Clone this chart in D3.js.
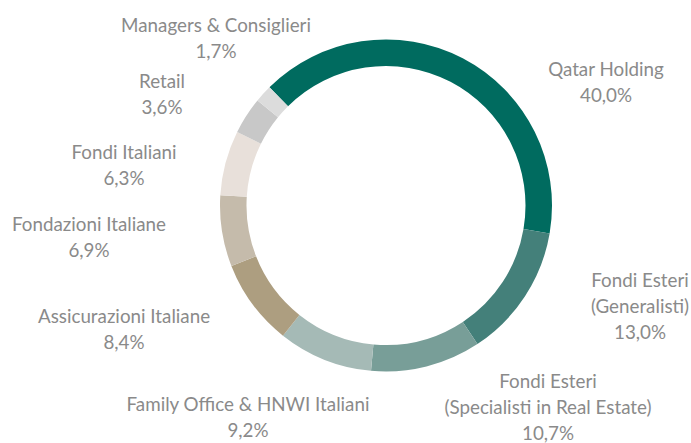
<!DOCTYPE html>
<html><head><meta charset="utf-8">
<script src="https://cdn.jsdelivr.net/npm/d3@7"></script>
<style>body{margin:0;background:#fff}svg{display:block}</style>
</head><body>
<script>
const categories = ["Qatar Holding","Fondi Esteri\n(Generalisti)","Fondi Esteri\n(Specialisti in Real Estate)","Family Office & HNWI Italiani","Assicurazioni Italiane","Fondazioni Italiane","Fondi Italiani","Retail","Managers & Consiglieri"];
const values = [40.0, 13.0, 10.7, 9.2, 8.4, 6.9, 6.3, 3.6, 1.7];
const valueLabels = ["40,0%","13,0%","10,7%","9,2%","8,4%","6,9%","6,3%","3,6%","1,7%"];
const colors = ["#006b5f","#44807a","#789e98","#a5bab6","#ad9e80","#c5bbab","#e8e0da","#c8c8c8","#dcdcdc"];

const W = 691, H = 443, cx = 386, cy = 205.5, R = 166, r = 139.5;
// label block centres, relative to chart centre (layout only)
const labelOffsets = [[220,-122.6],[254,101.3],[162,202.3],[-138,212.4],[-262,124.4],[-297,32.4],[-262,-39.6],[-224,-110.6],[-170,-166.6]];

const svg = d3.select("body").append("svg").attr("width", W).attr("height", H);
const g = svg.append("g").attr("transform", `translate(${cx},${cy})`);
const start = -44.6 * Math.PI / 180;
const pie = d3.pie().sort(null).value(d => d).startAngle(start).endAngle(start + 2 * Math.PI);
const arc = d3.arc().innerRadius(r).outerRadius(R);
g.selectAll("path").data(pie(values)).join("path")
  .attr("d", arc).attr("fill", (d, i) => colors[i]);

const lh = 25.8;
categories.forEach((c, i) => {
  const lines = c.split("\n").concat([valueLabels[i]]);
  const n = lines.length;
  const [ox, oy] = labelOffsets[i];
  const t = g.append("text").attr("text-anchor", "middle")
    .attr("font-family", "Lato, 'Noto Sans', sans-serif").attr("font-size", 18.8)
    .attr("fill", "#8a8a8a");
  const firstY = oy - (n - 1) * lh / 2 + 6;
  lines.forEach((l, k) => {
    t.append("tspan").attr("x", ox).attr("y", firstY + k * lh).text(l);
  });
});
</script>
</body></html>
